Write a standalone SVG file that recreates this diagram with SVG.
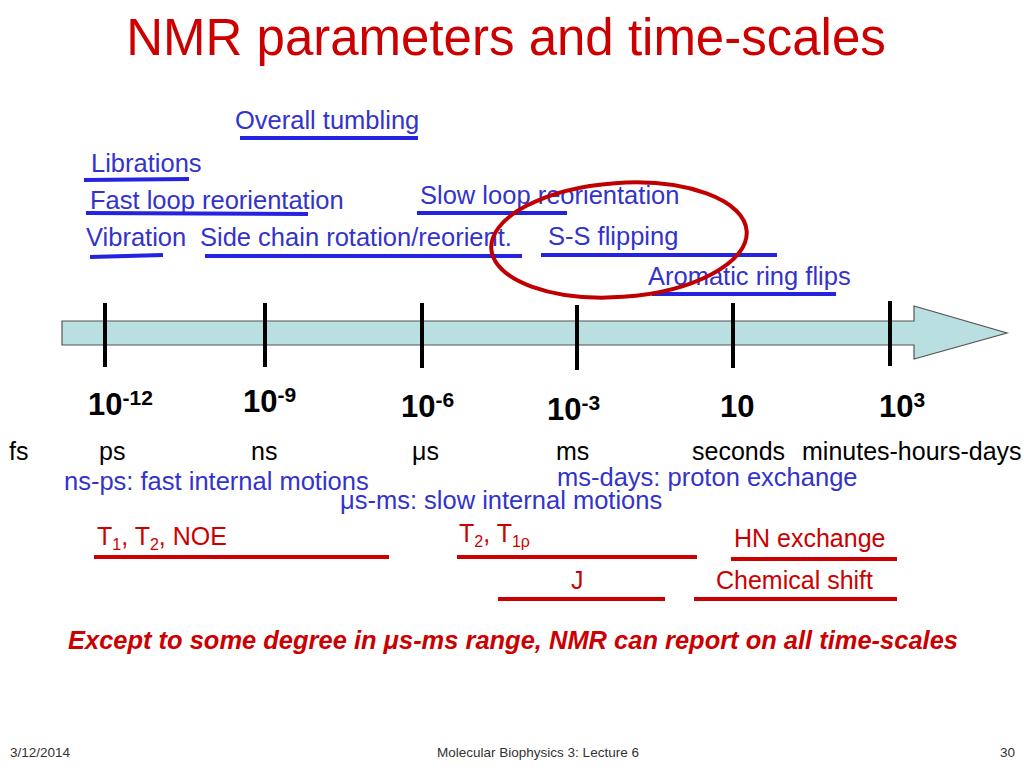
<svg xmlns="http://www.w3.org/2000/svg" width="1024" height="768" viewBox="0 0 1024 768">
<style>
text{font-family:"Liberation Sans",Arial,sans-serif}
.title{font-size:51px;fill:#cc0000}
.blue{font-size:25.5px;fill:#3333cc}
.bl{stroke:#2323e0;stroke-width:4;fill:none}
.unit{font-size:25px;fill:#000}
.exp{font-size:31px;font-weight:bold;fill:#000}
.sup{font-size:21px}
.red{font-size:25px;fill:#cc0000}
.sub{font-size:16px}
.rl{stroke:#cc0000;stroke-width:4;fill:none}
.tick{stroke:#000;stroke-width:4}
.foot{font-size:13.5px;fill:#333}
</style>
<rect width="1024" height="768" fill="#fff"/>
<text class="title" x="506" y="55" text-anchor="middle">NMR parameters and time-scales</text>

<g id="axis">
<path d="M62,321 L914,321 L914,306 L1007,333 L914,359 L914,345 L62,345 Z" fill="#b9dfe1" stroke="#555" stroke-width="1.2"/>
<line class="tick" x1="105" y1="303" x2="105" y2="367"/>
<line class="tick" x1="265" y1="303" x2="265" y2="367"/>
<line class="tick" x1="422" y1="303" x2="422" y2="368"/>
<line class="tick" x1="577" y1="305" x2="577" y2="370"/>
<line class="tick" x1="733" y1="303" x2="733" y2="368"/>
<line class="tick" x1="890" y1="301" x2="890" y2="366"/>
</g>

<g id="exponents">
<text class="exp" x="88" y="415">10<tspan class="sup" dy="-10">-12</tspan></text>
<text class="exp" x="243" y="412">10<tspan class="sup" dy="-10">-9</tspan></text>
<text class="exp" x="401" y="417">10<tspan class="sup" dy="-10">-6</tspan></text>
<text class="exp" x="547" y="420">10<tspan class="sup" dy="-10">-3</tspan></text>
<text class="exp" x="720" y="417">10</text>
<text class="exp" x="879" y="417">10<tspan class="sup" dy="-10">3</tspan></text>
</g>

<g id="units">
<text class="unit" x="9" y="460">fs</text>
<text class="unit" x="99" y="460">ps</text>
<text class="unit" x="251" y="460">ns</text>
<text class="unit" x="412" y="460">μs</text>
<text class="unit" x="556" y="460">ms</text>
<text class="unit" x="692" y="460">seconds</text>
<text class="unit" x="802" y="460">minutes-hours-days</text>
</g>

<g id="motion-ranges">
<text class="blue" x="64" y="490">ns-ps: fast internal motions</text>
<text class="blue" x="557" y="486">ms-days: proton exchange</text>
<text class="blue" x="340" y="509">μs-ms: slow internal motions</text>
</g>

<g id="motions">
<g id="overall-tumbling"><text class="blue" x="235" y="129">Overall tumbling</text><line class="bl" x1="240" y1="138" x2="418" y2="138"/></g>
<g id="librations"><text class="blue" x="91" y="172">Librations</text><line class="bl" x1="84" y1="180" x2="189" y2="179"/></g>
<g id="fast-loop"><text class="blue" x="90" y="209">Fast loop reorientation</text><line class="bl" x1="86" y1="213" x2="308" y2="214"/></g>
<g id="slow-loop"><text class="blue" x="420" y="204">Slow loop reorientation</text><line class="bl" x1="417" y1="213" x2="567" y2="213"/></g>
<g id="vibration"><text class="blue" x="86" y="246">Vibration</text><line class="bl" x1="90" y1="257" x2="163" y2="255"/></g>
<g id="side-chain"><text class="blue" x="200" y="246">Side chain rotation/reorient.</text><line class="bl" x1="205" y1="256" x2="522" y2="256"/></g>
<g id="ss-flipping"><text class="blue" x="548" y="245">S-S flipping</text><line class="bl" x1="541" y1="255" x2="777" y2="255"/></g>
<g id="aromatic"><text class="blue" x="648" y="285">Aromatic ring flips</text><line class="bl" x1="652" y1="294" x2="836" y2="294"/></g>
</g>

<ellipse id="highlight" cx="619" cy="240" rx="128" ry="57" transform="rotate(-4 619 240)" fill="none" stroke="#c00000" stroke-width="4"/>

<g id="parameters">
<g id="t1t2noe"><text class="red" x="97" y="545">T<tspan class="sub" dy="5">1</tspan><tspan dy="-5">, T</tspan><tspan class="sub" dy="5">2</tspan><tspan dy="-5">, NOE</tspan></text><line class="rl" x1="94" y1="557" x2="389" y2="557"/></g>
<g id="t2t1rho"><text class="red" x="459" y="542">T<tspan class="sub" dy="5">2</tspan><tspan dy="-5">, T</tspan><tspan class="sub" dy="5">1ρ</tspan></text><line class="rl" x1="457" y1="557" x2="697" y2="557"/></g>
<g id="hn-exchange"><text class="red" x="734" y="547">HN exchange</text><line class="rl" x1="731" y1="559" x2="897" y2="559"/></g>
<g id="j"><text class="red" x="571" y="589">J</text><line class="rl" x1="498" y1="599" x2="665" y2="599"/></g>
<g id="chemical-shift"><text class="red" x="716" y="589">Chemical shift</text><line class="rl" x1="694" y1="599" x2="897" y2="599"/></g>
</g>

<text x="68" y="649" textLength="890" lengthAdjust="spacingAndGlyphs" style="font-size:25px;font-weight:bold;font-style:italic;fill:#cc0000">Except to some degree in μs-ms range, NMR can report on all time-scales</text>

<g id="footer">
<text class="foot" x="10" y="757">3/12/2014</text>
<text class="foot" x="538" y="757" text-anchor="middle">Molecular Biophysics 3: Lecture 6</text>
<text class="foot" x="1015" y="757" text-anchor="end">30</text>
</g>
</svg>
